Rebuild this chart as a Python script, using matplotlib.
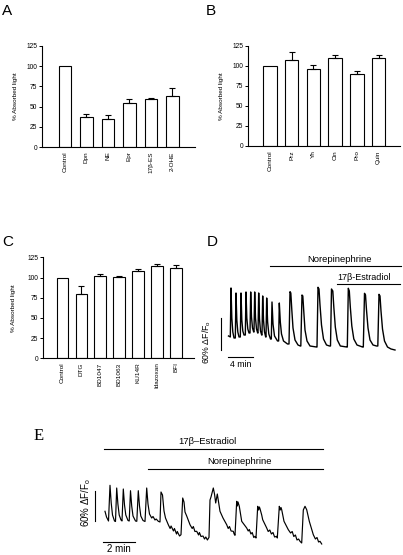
import matplotlib
matplotlib.use("Agg")
import matplotlib.pyplot as plt

plt.rcParams['font.family'] = ['Liberation Sans', 'DejaVu Sans']
plt.rcParams['mathtext.fontset'] = 'custom'
plt.rcParams['mathtext.rm'] = 'Liberation Sans'
plt.rcParams['mathtext.it'] = 'Liberation Sans:italic'

# ---------------- data ----------------
a_labels = ["Control", "Dpn", "NE", "Epr", "17\u03b2-ES", "2-OHE"]
a_values = [100, 37, 35, 54, 59, 63]
a_errors = [0, 4, 4, 5, 2, 10]

b_labels = ["Control", "Prz", "Yh", "Cin", "Pro", "Quin"]
b_values = [100, 107, 96, 110, 90, 110]
b_errors = [0, 10, 4.5, 4, 3, 4]

c_labels = ["Control", "DTG", "BD1047", "BD1063", "KU14R", "Idazoxan", "BFI"]
c_values = [100, 80, 101.5, 101, 107.5, 114, 112]
c_errors = [0, 9, 2.5, 1.3, 3, 3, 3]

y_ticks = [0, 25, 50, 75, 100, 125]

# D trace: time (min), dF/F0 (%)
d_t = [0.08, 0.37, 0.48, 0.61, 0.77, 0.96,
       1.17, 1.28, 1.41, 1.57, 1.76,
       1.97, 2.08, 2.21, 2.37, 2.56,
       2.77, 2.88, 3.01, 3.17, 3.36,
       3.52, 3.63, 3.76, 3.92, 4.11,
       4.16, 4.27, 4.40, 4.56, 4.75,
       4.80, 4.91, 5.04, 5.20, 5.39,
       5.44, 5.55, 5.68, 5.84, 6.03,
       6.08, 6.19, 6.34, 6.53, 6.80,
       6.93, 7.04, 7.20, 7.44, 7.92,
       8.10, 8.21, 8.37, 8.56, 8.88, 9.52,
       9.76, 9.92, 10.05, 10.21, 10.40, 10.72, 11.20, 11.57,
       11.65, 11.84, 11.97, 12.13, 12.32, 12.64, 13.12, 14.16,
       14.24, 14.40, 14.56, 14.72, 14.96, 15.28, 15.76, 16.24,
       16.40, 16.56, 16.77, 16.93, 17.17, 17.49, 17.97, 19.01,
       19.09, 19.25, 19.41, 19.57, 19.81, 20.13, 20.64, 21.52,
       21.65, 21.84, 22.00, 22.16, 22.40, 22.72, 23.20, 23.76,
       23.97, 24.16, 24.32, 24.48, 24.72, 25.04, 25.52, 26.08, 26.72]
d_v = [26.3, 24.4, 116.3, 60.0, 33.8, 22.5,
       22.5, 106.9, 56.3, 33.8, 24.4,
       24.4, 106.9, 56.3, 35.6, 28.1,
       28.1, 108.8, 60.0, 39.4, 31.9,
       31.9, 108.8, 61.9, 41.3, 33.8,
       33.8, 108.8, 60.0, 39.4, 31.9,
       31.9, 106.9, 58.1, 35.6, 28.1,
       28.1, 101.3, 56.3, 33.8, 24.4,
       24.4, 97.5, 52.5, 30.0, 20.6,
       20.6, 90.0, 48.8, 26.3, 16.9,
       16.9, 88.1, 52.5, 30.0, 16.9, 11.3,
       11.3, 109.3, 106.9, 75.0, 41.3, 18.8, 9.4, 7.5,
       7.5, 103.1, 101.3, 71.3, 37.5, 16.9, 7.5, 5.6,
       5.6, 117.6, 114.4, 84.4, 46.9, 20.6, 9.4, 7.5,
       7.5, 114.4, 110.6, 80.6, 43.1, 18.8, 7.5, 5.6,
       5.6, 115.7, 110.6, 80.6, 45.0, 20.6, 9.4, 5.6,
       5.6, 106.3, 103.1, 75.0, 41.3, 18.8, 9.4, 7.5,
       7.5, 104.4, 101.3, 73.1, 39.4, 16.9, 5.6, 1.9, 0.0]

# E trace: time (min), dF/F0 (%)
e_t = [0.0, 0.094, 0.219,
       0.3125, 0.388, 0.469, 0.594, 0.656,
       0.731, 0.806, 0.888, 1.0, 1.0625,
       1.144, 1.219, 1.3, 1.4375, 1.5125,
       1.594, 1.669, 1.75, 1.906, 1.9875,
       2.081, 2.156, 2.2375, 2.375, 2.5,
       2.606, 2.6875, 2.781, 2.919, 3.0, 3.125, 3.2, 3.331, 3.4375,
       3.5, 3.594, 3.6875, 3.781, 3.956, 4.07, 4.13, 4.1875, 4.28, 4.34, 4.375,
       4.47, 4.52, 4.5625, 4.66, 4.75,
       4.856, 4.9375, 5.0, 5.106, 5.3125, 5.45, 5.52, 5.62, 5.731, 5.85, 5.9,
       6.0, 6.125, 6.22, 6.3, 6.4, 6.5,
       6.5625, 6.625, 6.769, 6.844, 6.919, 7.019, 7.125, 7.1875, 7.375, 7.606,
       7.7, 7.78, 7.88, 8.019, 8.07, 8.125,
       8.231, 8.27, 8.3125, 8.394, 8.481, 8.544, 8.856, 8.95, 9.02, 9.12, 9.2,
       9.3, 9.375, 9.4375,
       9.544, 9.6, 9.65, 9.6875, 9.794, 9.856, 10.106, 10.2, 10.3, 10.4, 10.5,
       10.6, 10.731, 10.769,
       10.894, 10.95, 11.0, 11.044, 11.1875, 11.456, 11.6, 11.7, 11.8, 11.9,
       12.0, 12.1, 12.1875, 12.294,
       12.394, 12.5, 12.606, 12.769, 13.019, 13.15, 13.25, 13.35, 13.4375, 13.544]
e_v = [67.4, 56, 48,
       119.4, 84, 60, 48, 47,
       114, 82, 60, 50, 48,
       112, 80, 60, 49, 48,
       108.6, 78, 58, 48, 47.4,
       108.6, 78, 58, 49, 47,
       114, 82, 62, 54, 57, 50, 52, 47.4, 46,
       106, 100, 68, 54, 40.6, 33, 38, 34, 28, 33, 30,
       22, 27, 24, 18, 20.6,
       94, 86, 66, 58, 40.6, 33, 37, 27, 27.4, 20, 25,
       17, 18, 12, 16, 10, 15.4,
       90, 96, 114, 102, 84, 102, 80, 67.4, 54, 40.6,
       33, 37, 28, 27.4, 22, 19.4,
       87.4, 78, 86, 77.4, 60, 47.4, 34, 28, 31, 22, 25,
       15, 17.4, 14,
       77.4, 70, 76, 72.6, 60, 50.6, 34, 27, 30, 22, 25,
       16, 17.4, 14,
       77.4, 70, 75, 70.6, 47.4, 30.6, 24, 27, 17, 20,
       10, 12, 7.4, 4,
       70, 77.4, 70.6, 47.4, 20.6, 12, 15, 6, 7.4, 2]

# ---------------- figure ----------------
W, H = 403, 555
fig = plt.figure(figsize=(W / 100, H / 100), dpi=100)


def px_axes(x0, y0, x1, y1):
    return fig.add_axes([x0 / W, 1 - y1 / H, (x1 - x0) / W, (y1 - y0) / H])


def ftext(x, y, s, **kw):
    fig.text(x / W, 1 - y / H, s, **kw)


def bar_panel(box, labels, values, errors, xlim, width, ylab_off):
    ax = px_axes(*box)
    n = len(labels)
    xs = list(range(n))
    ax.bar(xs, values, width=width, color='white', edgecolor='black',
           linewidth=0.8, zorder=2)
    for x, v, e in zip(xs, values, errors):
        if e > 0:
            ax.errorbar([x], [v], yerr=[[0], [e]], fmt='none', ecolor='black',
                        elinewidth=0.8, capsize=2, capthick=0.8, zorder=3)
    ax.set_xlim(*xlim)
    ax.set_ylim(0, 125)
    ax.set_yticks(y_ticks)
    ax.set_yticklabels([str(t) for t in y_ticks], fontsize=4.8)
    ax.set_xticks(xs)
    ax.set_xticklabels(labels, rotation=90, fontsize=4.6, va='top', ha='center')
    ax.tick_params(axis='x', length=0, pad=3)
    ax.tick_params(axis='y', length=2, width=0.7, pad=1.5)
    ax.spines['top'].set_visible(False)
    ax.spines['right'].set_visible(False)
    ax.spines['left'].set_linewidth(0.8)
    ax.spines['bottom'].set_linewidth(0.8)
    ax.set_ylabel('% Absorbed light', fontsize=4.6)
    wpx = box[2] - box[0]
    ax.yaxis.set_label_coords(-ylab_off / wpx, 0.5)
    return ax


bar_panel((42, 46, 195, 147), a_labels, a_values, a_errors, (-1.07, 6.05), 0.6, 23.5)
bar_panel((248, 45.7, 400, 146), b_labels, b_values, b_errors, (-1.01, 5.99), 0.63, 24.5)
bar_panel((43, 257.3, 194, 358.3), c_labels, c_values, c_errors, (-1.03, 6.96), 0.61, 27)

ftext(2, 15, 'A', fontsize=11)
ftext(206, 15, 'B', fontsize=11)
ftext(2, 246, 'C', fontsize=11)
ftext(207, 246, 'D', fontsize=11)
ftext(34, 439.5, 'E', fontsize=12, family=['Liberation Serif', 'DejaVu Serif'])

# ---------------- panel D ----------------
axd = px_axes(200, 250, 403, 370)
axd.set_xlim(-4.48, 28.0)
axd.set_ylim(-37.5, 187.5)
axd.axis('off')
axd.plot(d_t, d_v, color='black', lw=1.0, solid_joinstyle='round')
axd.plot([6.72, 27.68], [157.5, 157.5], color='black', lw=0.8, clip_on=False)
axd.text(17.92, 162, 'Norepinephrine', fontsize=6.8, ha='center', va='bottom')
axd.plot([17.44, 27.52], [123.8, 123.8], color='black', lw=0.8, clip_on=False)
axd.text(21.76, 128, '17\u03b2-Estradiol', fontsize=6.5, ha='center', va='bottom')
axd.plot([-1.12, -1.12], [0, 60], color='black', lw=0.8)
axd.text(-3.36, 15, r'60% $\Delta$F/F$_{\rm o}$', fontsize=6.3, rotation=90,
         ha='center', va='center')
axd.plot([0, 4], [-13.1, -13.1], color='black', lw=0.8)
axd.text(2, -27, '4 min', fontsize=6.3, ha='center', va='center')

# ---------------- panel E ----------------
axe = px_axes(0, 430, 403, 555)
axe.set_xlim(-6.5625, 18.625)
axe.set_ylim(-20, 230)
axe.axis('off')
axe.plot(e_t, e_v, color='black', lw=0.85, solid_joinstyle='round')
axe.plot([-0.0625, 13.625], [192, 192], color='black', lw=0.8)
axe.text(6.375, 198, '17\u03b2\u2013Estradiol', fontsize=6.8, ha='center', va='bottom')
axe.plot([2.6875, 13.625], [152, 152], color='black', lw=0.8)
axe.text(8.375, 158, 'Norepinephrine', fontsize=6.8, ha='center', va='bottom')
axe.plot([-0.625, -0.625], [48, 108], color='black', lw=0.8)
axe.text(-1.19, 84, r'60% $\Delta$F/F$_{\rm o}$', fontsize=7, rotation=90,
         ha='center', va='center')
axe.plot([-0.106, 1.875], [6.6, 6.6], color='black', lw=0.8)
axe.text(0.875, -8, '2 min', fontsize=7, ha='center', va='center')

fig.savefig('out.png', dpi=100)
